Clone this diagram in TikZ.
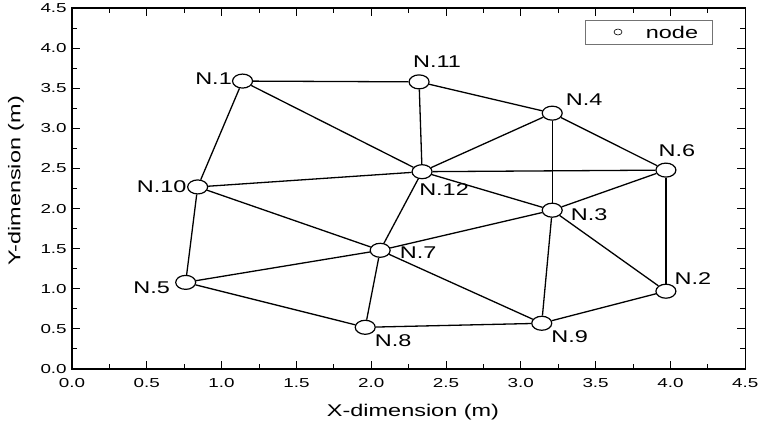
\documentclass[tikz,border=0pt]{standalone}
\usepackage{fontspec}
\setmainfont{Liberation Sans}
\usetikzlibrary{shapes.geometric, calc}

\begin{document}
\begin{tikzpicture}[x=149.6pt, y=80.2pt,
    vertex/.style={draw, fill=white, ellipse, minimum width=20pt, minimum height=14pt, inner sep=0pt, line width=1.2pt},
    link/.style={line width=1.3pt},
    lbl/.style={font=\fontsize{17}{20}\selectfont, xscale=1.38, inner sep=0pt},
    ticklbl/.style={font=\fontsize{13}{15}\selectfont, xscale=1.45, inner sep=0pt}]
    \useasboundingbox (-72pt,-56pt) rectangle (692pt,369pt);

    % Frame of the plot
    \draw[line width=1.4pt] (0,0) rectangle (4.5,4.5);

    % Major ticks with labels
    \foreach \t [count=\i] in {0.0,0.5,1.0,1.5,2.0,2.5,3.0,3.5,4.0,4.5} {
        \draw[line width=1pt] (\t,0) -- ++(0,8pt);
        \draw[line width=1pt] (\t,4.5) -- ++(0,-8pt);
        \draw[line width=1pt] (0,\t) -- ++(8pt,0);
        \draw[line width=1pt] (4.5,\t) -- ++(-8pt,0);
        \node[ticklbl] (xt\i) at ($(\t,0)+(0,-14pt)$) {\t};
        \node[ticklbl, anchor=east] (yt\i) at ($(0,\t)+(-5pt,0)$) {\t};
    }
    % Minor ticks
    \foreach \t in {0.25,0.75,...,4.25} {
        \draw[line width=1pt] (\t,0) -- ++(0,5pt);
        \draw[line width=1pt] (\t,4.5) -- ++(0,-5pt);
        \draw[line width=1pt] (0,\t) -- ++(5pt,0);
        \draw[line width=1pt] (4.5,\t) -- ++(-5pt,0);
    }

    % Axis titles
    \node[lbl] (xtitle) at (341pt,-43pt) {X-dimension (m)};
    \node[rotate=90, lbl] (ytitle) at (-56pt,188pt) {Y-dimension (m)};

    % Legend
    \node[draw=black!55, line width=0.6pt, minimum width=127pt, minimum height=24pt, inner sep=0pt] (legend) at (576.5pt,337pt) {};
    \node[draw, ellipse, minimum width=8pt, minimum height=6pt, inner sep=0pt, line width=0.6pt] (legmark) at (546pt,337pt) {};
    \node[lbl] (legtext) at (600pt,337pt) {node};

    % Sensor nodes
    \node[vertex] (n1) at (1.14,3.59) {};
    \node[vertex] (n2) at (3.97,0.97) {};
    \node[vertex] (n3) at (3.21,1.98) {};
    \node[vertex] (n4) at (3.21,3.19) {};
    \node[vertex] (n5) at (0.76,1.08) {};
    \node[vertex] (n6) at (3.97,2.48) {};
    \node[vertex] (n7) at (2.06,1.48) {};
    \node[vertex] (n8) at (1.96,0.52) {};
    \node[vertex] (n9) at (3.14,0.57) {};
    \node[vertex] (n10) at (0.84,2.27) {};
    \node[vertex] (n11) at (2.32,3.58) {};
    \node[vertex] (n12) at (2.34,2.46) {};

    % Links between nodes
    \foreach \a/\b in {n1/n11, n1/n12, n1/n10, n11/n12, n11/n4, n10/n12, n10/n5, n10/n7,
                       n12/n4, n12/n6, n12/n3, n12/n7, n4/n3, n4/n6, n6/n3, n6/n2,
                       n3/n7, n3/n9, n3/n2, n7/n5, n7/n8, n7/n9, n5/n8, n8/n9, n9/n2}
        \draw[link] (\a) -- (\b);

    % Node names
    \node[lbl] (t1) at ($(n1)+(-29pt,2pt)$) {N.1};
    \node[lbl] (t2) at ($(n2)+(27pt,13pt)$) {N.2};
    \node[lbl] (t3) at ($(n3)+(37pt,-4pt)$) {N.3};
    \node[lbl] (t4) at ($(n4)+(32pt,14pt)$) {N.4};
    \node[lbl] (t5) at ($(n5)+(-34pt,-5pt)$) {N.5};
    \node[lbl] (t6) at ($(n6)+(11pt,19pt)$) {N.6};
    \node[lbl] (t7) at ($(n7)+(38pt,-2pt)$) {N.7};
    \node[lbl] (t8) at ($(n8)+(28pt,-13pt)$) {N.8};
    \node[lbl] (t9) at ($(n9)+(28pt,-13pt)$) {N.9};
    \node[lbl] (t10) at ($(n10)+(-36pt,0pt)$) {N.10};
    \node[lbl] (t11) at ($(n11)+(18pt,20pt)$) {N.11};
    \node[lbl] (t12) at ($(n12)+(22pt,-18pt)$) {N.12};
\end{tikzpicture}
\end{document}
